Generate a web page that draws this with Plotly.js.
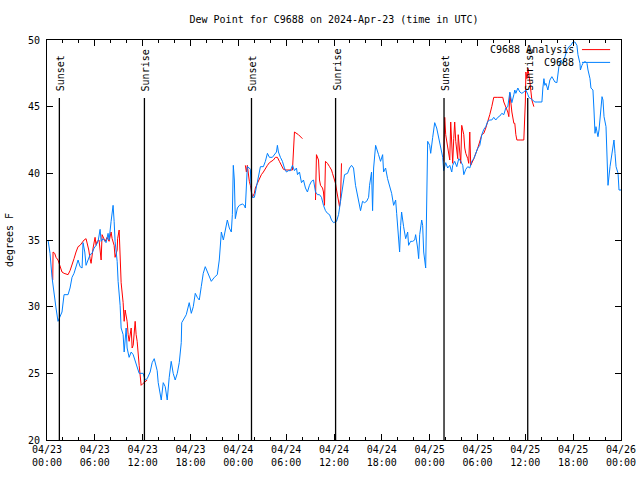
<!DOCTYPE html>
<html>
<head>
<meta charset="utf-8">
<script src="https://cdn.plot.ly/plotly-3.0.1.min.js"></script>
<style>html,body{margin:0;padding:0;background:#fff;}#chart{width:640px;height:480px;}</style>
</head>
<body>
<div id="chart"></div>
<script>
// Hours since 2024-04-23 00:00 UTC, and dew point (degrees F)
const obsHours = [0.13,0.38,0.63,0.88,1.13,1.38,1.63,1.88,2.14,2.64,2.89,3.14,3.39,3.64,3.90,4.15,4.40,4.52,4.74,4.90,5.15,5.40,5.65,5.91,6.16,6.41,6.66,6.79,7.04,7.41,7.66,7.79,8.04,8.29,8.42,8.54,8.80,8.92,9.17,9.30,9.55,9.68,9.93,10.05,10.30,10.56,10.81,11.06,11.31,11.56,12.06,12.31,12.57,12.94,13.19,13.45,13.82,13.95,14.33,14.58,14.83,15.08,15.33,15.58,15.83,16.08,16.34,16.59,16.84,16.90,17.09,17.47,17.84,18.10,18.35,18.60,18.85,19.10,19.35,19.60,19.85,20.23,20.61,20.99,21.36,21.61,21.74,21.87,22.12,22.37,22.62,22.87,23.12,23.25,23.37,23.50,23.62,23.88,24.13,24.50,24.75,24.88,25.07,25.13,25.38,25.51,25.63,25.76,26.01,26.26,26.51,26.77,27.14,27.39,27.65,27.90,28.27,28.52,28.78,28.90,29.03,29.28,29.53,29.78,30.03,30.28,30.54,30.79,31.04,31.29,31.42,31.67,31.92,32.17,32.42,32.67,32.92,33.17,33.43,33.68,33.93,34.18,34.43,34.68,34.93,35.18,35.44,35.69,35.94,36.32,36.57,36.82,37.07,37.32,37.70,37.95,38.20,38.45,38.70,38.96,39.21,39.33,39.58,39.83,40.09,40.34,40.46,40.71,40.84,40.97,41.22,41.47,41.59,41.84,42.10,42.22,42.47,42.72,42.98,43.23,43.48,43.73,43.86,43.98,44.23,44.36,44.48,44.73,44.99,45.24,45.36,45.61,45.87,46.12,46.24,46.49,46.62,46.75,47.00,47.12,47.25,47.50,47.63,47.75,48.00,48.13,48.38,48.63,48.88,49.13,49.38,49.64,49.76,50.01,50.26,50.52,50.77,50.89,51.14,51.40,51.65,51.90,52.15,52.28,52.53,52.78,53.03,53.28,53.54,53.79,54.04,54.29,54.54,54.79,55.04,55.29,55.54,55.79,56.04,56.29,56.55,56.80,57.05,57.30,57.55,57.80,58.06,58.18,58.31,58.56,58.68,58.81,59.06,59.31,59.56,59.81,60.07,60.32,60.44,60.69,60.95,61.20,61.57,61.82,62.08,62.20,62.33,62.45,62.58,62.83,62.96,63.08,63.33,63.46,63.71,63.96,64.09,64.21,64.46,64.71,64.97,65.22,65.47,65.72,65.97,66.22,66.47,66.60,66.85,66.91,67.10,67.23,67.48,67.73,67.86,68.11,68.23,68.48,68.61,68.74,68.86,69.11,69.24,69.36,69.62,69.74,69.87,70.12,70.24,70.37,70.62,70.75,70.87,71.12,71.25,71.38,71.63,71.75,72.00];
const obsDew = [35.0,34.0,32.2,30.9,29.9,28.9,29.2,29.6,30.9,30.9,31.4,32.2,32.5,33.1,33.5,33.0,32.9,34.8,34.1,33.1,33.5,33.9,34.0,34.4,34.6,34.9,35.8,34.9,35.1,34.8,35.5,35.0,36.4,37.6,36.4,34.9,33.4,31.9,30.1,28.4,27.9,26.6,28.4,26.9,26.2,26.6,26.4,25.9,25.4,25.0,25.0,24.5,24.6,25.1,25.8,26.1,25.2,24.3,23.0,24.3,24.0,23.0,24.7,25.9,25.0,24.5,25.0,25.8,27.3,28.8,29.0,29.4,30.3,29.5,30.0,31.0,30.7,30.5,31.5,32.5,33.0,32.4,31.9,32.2,32.4,33.5,34.3,35.6,35.0,35.8,36.5,35.9,35.6,36.9,40.6,39.5,36.6,37.4,37.6,37.7,37.6,37.4,39.5,40.5,40.4,40.3,38.6,38.2,38.2,38.9,39.5,40.5,40.5,40.9,41.5,41.2,41.2,41.4,41.6,42.1,41.6,41.2,40.9,40.4,40.1,40.2,40.2,40.6,40.2,40.4,39.9,40.1,39.3,39.5,38.9,38.6,39.1,39.4,39.5,38.6,38.4,38.4,38.2,37.6,37.2,37.0,36.9,36.5,36.3,36.4,36.9,37.9,38.9,39.9,40.0,40.4,40.6,40.4,39.1,38.2,37.5,37.2,37.9,37.8,37.9,38.2,39.1,40.1,37.2,40.4,42.1,41.7,41.4,40.9,41.4,40.1,40.4,39.6,39.1,38.5,37.6,38.0,37.0,35.9,34.1,36.1,37.1,36.0,35.1,35.6,34.6,34.9,34.9,35.0,35.4,34.4,33.6,35.4,36.5,36.1,34.1,32.9,38.4,42.4,42.1,41.5,42.7,43.8,43.4,42.7,42.0,41.2,40.2,40.8,40.4,40.6,40.1,40.6,40.9,40.5,41.1,40.9,40.6,39.9,40.3,40.5,40.4,40.9,41.1,41.5,41.9,42.1,42.9,43.3,43.5,43.9,44.0,44.0,44.2,44.0,44.2,44.3,44.5,44.4,44.9,45.0,46.1,45.7,45.3,45.9,46.25,46.0,46.4,46.1,46.0,46.1,46.25,45.9,45.7,45.6,45.5,45.35,45.35,45.35,45.35,46.4,47.1,46.6,46.75,46.25,46.6,47.0,47.25,47.1,46.85,46.8,47.6,48.0,48.5,48.25,48.75,49.25,49.5,49.6,49.85,49.85,49.6,48.9,48.25,47.75,48.1,48.25,48.4,48.25,47.75,47.1,46.4,46.25,44.75,43.0,43.5,42.75,43.25,44.0,45.75,45.5,44.25,43.5,41.75,39.1,40.5,41.0,41.5,42.5,41.5,40.5,40.0,38.75,38.75];

const anaHours = [0.72,0.76,0.97,1.13,1.38,1.63,1.88,2.14,2.64,2.89,3.14,3.39,3.64,3.90,4.15,4.40,4.65,4.90,5.03,5.24,5.40,5.53,5.78,6.03,6.16,6.28,6.53,6.66,6.79,6.91,7.04,7.29,7.54,7.79,8.04,8.17,8.42,8.54,8.80,8.86,9.05,9.17,9.30,9.55,9.68,9.80,10.05,10.18,10.30,10.56,10.68,10.81,11.06,11.18,11.31,11.56,11.81,12.06,12.31,12.57,18.0,
24.88,25.01,25.13,25.26,25.38,25.51,25.63,25.76,26.01,26.14,26.39,26.64,26.89,27.14,27.39,27.65,27.90,28.15,28.40,28.65,28.90,29.15,29.40,29.66,29.91,30.28,30.79,30.91,31.04,31.54,32.04,33.0,
33.68,33.80,34.06,34.18,34.31,34.56,34.68,34.81,34.93,35.18,35.44,35.69,35.81,36.06,36.19,36.32,36.57,36.69,36.82,36.94,43.0,
49.76,49.89,50.01,50.26,50.39,50.52,50.64,50.77,50.89,51.02,51.14,51.27,51.52,51.58,51.77,51.90,52.02,52.28,52.40,52.53,52.78,52.90,53.03,53.15,53.54,54.04,54.54,54.79,55.04,55.29,55.54,55.79,56.04,56.55,56.92,57.17,57.30,57.55,57.80,57.93,58.06,58.18,58.31,58.56,58.68,58.81,58.94,59.44,59.81,60.00,60.07,60.19,60.32,60.57,60.69,60.82,61.07];
const anaDew = [32.0,34.1,34.0,33.7,33.5,33.0,32.6,32.5,32.4,32.7,33.1,33.6,34.1,34.5,34.6,34.8,35.0,35.1,34.8,34.25,33.6,33.25,34.4,35.2,34.6,34.9,35.0,34.25,33.5,35.4,35.2,34.9,35.2,34.9,35.6,35.1,34.6,33.7,34.25,35.1,35.75,33.3,31.8,30.3,28.9,29.75,28.9,27.9,27.4,28.4,26.9,27.1,28.9,27.9,27.4,25.6,24.1,24.25,24.35,24.5,null,
40.6,40.1,40.6,39.75,39.4,39.1,38.75,38.2,38.5,38.9,39.25,39.6,39.9,40.1,40.4,40.6,40.8,40.9,41.0,41.2,41.2,40.9,40.6,40.3,40.25,40.25,40.25,41.6,43.1,42.9,42.6,null,
38.0,41.4,41.0,39.5,39.1,38.9,38.6,37.6,40.9,40.75,40.5,40.25,40.0,39.6,39.25,38.75,38.0,37.5,38.1,40.75,null,
40.9,44.2,42.9,42.1,41.4,41.0,43.85,42.1,40.75,42.6,43.85,42.4,41.1,42.9,41.4,40.75,43.6,42.9,41.9,41.5,41.1,40.75,43.1,40.6,41.1,41.9,42.9,43.0,43.4,43.85,44.4,45.0,45.7,45.7,45.7,45.7,45.35,45.0,44.6,44.25,46.0,45.35,44.6,43.75,43.75,42.9,42.5,42.5,42.5,45.35,47.6,47.1,47.9,46.85,46.0,45.5,45.0];

const sunEventHours = [1.55, 12.22, 25.65, 36.2, 49.8, 60.3];
const sunEventLabels = ["Sunset", "Sunrise", "Sunset", "Sunrise", "Sunset", "Sunrise"];

const seriesNames = ["C9688 Analysis", "C9688"];
const seriesColors = ["#ff0000", "#0080ff"];

const baseMs = Date.UTC(2024, 3, 23, 0, 0, 0);
function toDate(h) {
  if (h === null) return null;
  return new Date(baseMs + h * 3600000).toISOString().replace('T', ' ').slice(0, 19);
}

const FONT = "DejaVu Sans Mono, Liberation Mono, monospace";

const traces = [
  {x: anaHours.map(toDate), y: anaDew, type: 'scatter', mode: 'lines', name: seriesNames[0],
   line: {color: seriesColors[0], width: 1}, connectgaps: false, hoverinfo: 'skip'},
  {x: obsHours.map(toDate), y: obsDew, type: 'scatter', mode: 'lines', name: seriesNames[1],
   line: {color: seriesColors[1], width: 1}, hoverinfo: 'skip'}
];

const shapes = [];
const annotations = [];
sunEventHours.forEach((h, i) => {
  shapes.push({type: 'line', xref: 'x', yref: 'y', x0: toDate(h), x1: toDate(h), y0: 20, y1: 45.65,
    line: {color: '#000', width: 1.3}});
  annotations.push({xref: 'x', yref: 'y', x: toDate(h), y: 45.65, text: sunEventLabels[i],
    textangle: -90, showarrow: false, xanchor: 'center', yanchor: 'bottom', xshift: 1, yshift: 5,
    font: {family: FONT, size: 10, color: '#000'}});
});

// legend drawn as text + sample line (text left of the sample, like the original)
const legendY = [0.976, 0.944];
seriesNames.forEach((n, i) => {
  annotations.push({xref: 'paper', yref: 'paper', x: 0.921, y: legendY[i], text: n, showarrow: false,
    xanchor: 'right', yanchor: 'middle', font: {family: FONT, size: 10, color: '#000'}});
  shapes.push({type: 'line', xref: 'paper', yref: 'paper', x0: 0.932, x1: 0.981, y0: legendY[i], y1: legendY[i],
    line: {color: seriesColors[i], width: 1}});
});

const layout = {
  width: 640, height: 480,
  margin: {l: 47, r: 19, t: 40, b: 40, pad: 0},
  paper_bgcolor: '#fff', plot_bgcolor: '#fff',
  showlegend: false,
  font: {family: FONT, size: 10, color: '#000'},
  title: {text: 'Dew Point for C9688 on 2024-Apr-23 (time in UTC)', x: 0.5, xref: 'paper',
    y: 0.96, yref: 'container', yanchor: 'middle', font: {family: FONT, size: 10, color: '#000'}},
  xaxis: {
    type: 'date', range: ['2024-04-23 00:00:00', '2024-04-26 00:00:00'],
    tickmode: 'linear', tick0: '2024-04-23 00:00:00', dtick: 6 * 3600000,
    tickformat: '%m/%d<br>%H:%M',
    ticks: 'inside', ticklen: 6, tickcolor: '#000', tickwidth: 1,
    minor: {dtick: 2 * 3600000, tick0: '2024-04-23 00:00:00', ticks: 'inside', ticklen: 3, tickcolor: '#000', showgrid: false},
    showline: true, linecolor: '#000', linewidth: 1, mirror: 'allticks',
    showgrid: false, zeroline: false, fixedrange: true,
    tickfont: {family: FONT, size: 10, color: '#000'}
  },
  yaxis: {
    range: [20, 50], tickmode: 'linear', tick0: 20, dtick: 5,
    ticks: 'inside', ticklen: 6, tickcolor: '#000', tickwidth: 1,
    showline: true, linecolor: '#000', linewidth: 1, mirror: 'allticks',
    showgrid: false, zeroline: false, fixedrange: true,
    ticklabelstandoff: 4,
    tickfont: {family: FONT, size: 10, color: '#000'},
    title: {text: 'degrees F', standoff: 12, font: {family: FONT, size: 10, color: '#000'}}
  },
  shapes: shapes,
  annotations: annotations
};

Plotly.newPlot('chart', traces, layout, {staticPlot: true, displayModeBar: false});
</script>
</body>
</html>
